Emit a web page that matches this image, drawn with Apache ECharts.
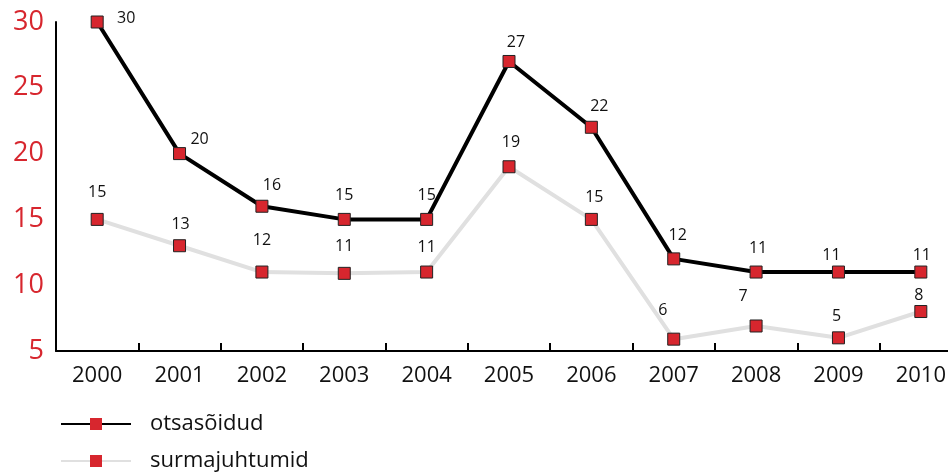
<!DOCTYPE html>
<html>
<head>
<meta charset="utf-8">
<script src="https://cdn.jsdelivr.net/npm/echarts@6/dist/echarts.min.js"></script>
<style>
  html, body { margin: 0; padding: 0; background: #fff; }
  #chart { width: 948px; height: 473px; }
</style>
</head>
<body>
<div id="chart"></div>
<script>
var years = ['2000', '2001', '2002', '2003', '2004', '2005', '2006', '2007', '2008', '2009', '2010'];
var otsasoidud = [30, 20, 16, 15, 15, 27, 22, 12, 11, 11, 11];
var surmajuhtumid = [15, 13, 11, 10.9, 11, 19, 15, 5.9, 6.9, 6, 8];
var surmajuhtumidLabels = ['15', '13', '12', '11', '11', '19', '15', '6', '7', '5', '8'];

var red = '#d7262e';
var font = 'Open Sans';

// label offsets per point (px), roughly as in the picture
var blackOffsets = [[29, 11], [20, 0], [10, -6], [0, -9], [0, -9], [7, -5], [8, -6], [4, -9], [2, -9], [-7, -2], [1, -2]];
var grayOffsets = [[0, -12], [1, -7], [0, -17], [0, -12], [0, -10], [2, -10], [3, -7], [-11, -14], [-13, -15], [-2, -7], [-2, -2]];

var myChart = echarts.init(document.getElementById('chart'));

myChart.setOption({
  animation: false,
  grid: { left: 56, width: 906, top: 22, bottom: 122, containLabel: false, outerBoundsMode: 'none' },
  legend: {
    orient: 'vertical',
    left: 55,
    top: 408,
    height: 65,
    itemWidth: 70,
    itemHeight: 15,
    itemGap: 15,
    itemStyle: { borderWidth: 0 },
    textStyle: { fontFamily: font, fontSize: 22, color: '#111', padding: [0, 0, 0, 14] },
    data: ['otsasõidud', 'surmajuhtumid']
  },
  xAxis: {
    type: 'category',
    data: years,
    boundaryGap: true,
    axisLine: { lineStyle: { color: '#000', width: 2 } },
    axisTick: { show: true, inside: true, length: 8, lineStyle: { color: '#000', width: 2 } },
    axisLabel: { fontFamily: font, fontSize: 22, color: '#111', margin: 14 }
  },
  yAxis: {
    type: 'value',
    min: 5,
    max: 30,
    interval: 5,
    splitLine: { show: false },
    axisLine: { show: true, lineStyle: { color: '#000', width: 2 } },
    axisTick: { show: false },
    axisLabel: { fontFamily: font, fontSize: 27, color: red, margin: 12 }
  },
  series: [
    {
      name: 'otsasõidud',
      type: 'line',
      z: 3,
      symbol: 'rect',
      symbolSize: 12,
      itemStyle: { color: red, borderColor: '#222', borderWidth: 1 },
      lineStyle: { color: '#000', width: 4 },
      label: {
        show: true,
        position: 'top',
        distance: 0,
        fontFamily: font,
        fontSize: 16,
        color: '#111'
      },
      data: otsasoidud.map(function (v, i) {
        return { value: v, label: { offset: blackOffsets[i] } };
      })
    },
    {
      name: 'surmajuhtumid',
      type: 'line',
      z: 2,
      symbol: 'rect',
      symbolSize: 12,
      itemStyle: { color: red, borderColor: '#222', borderWidth: 1 },
      lineStyle: { color: '#e0e0e0', width: 4 },
      label: {
        show: true,
        position: 'top',
        distance: 0,
        fontFamily: font,
        fontSize: 16,
        color: '#111',
        formatter: function (p) { return surmajuhtumidLabels[p.dataIndex]; }
      },
      data: surmajuhtumid.map(function (v, i) {
        return { value: v, label: { offset: grayOffsets[i] } };
      })
    }
  ]
});
</script>
</body>
</html>
